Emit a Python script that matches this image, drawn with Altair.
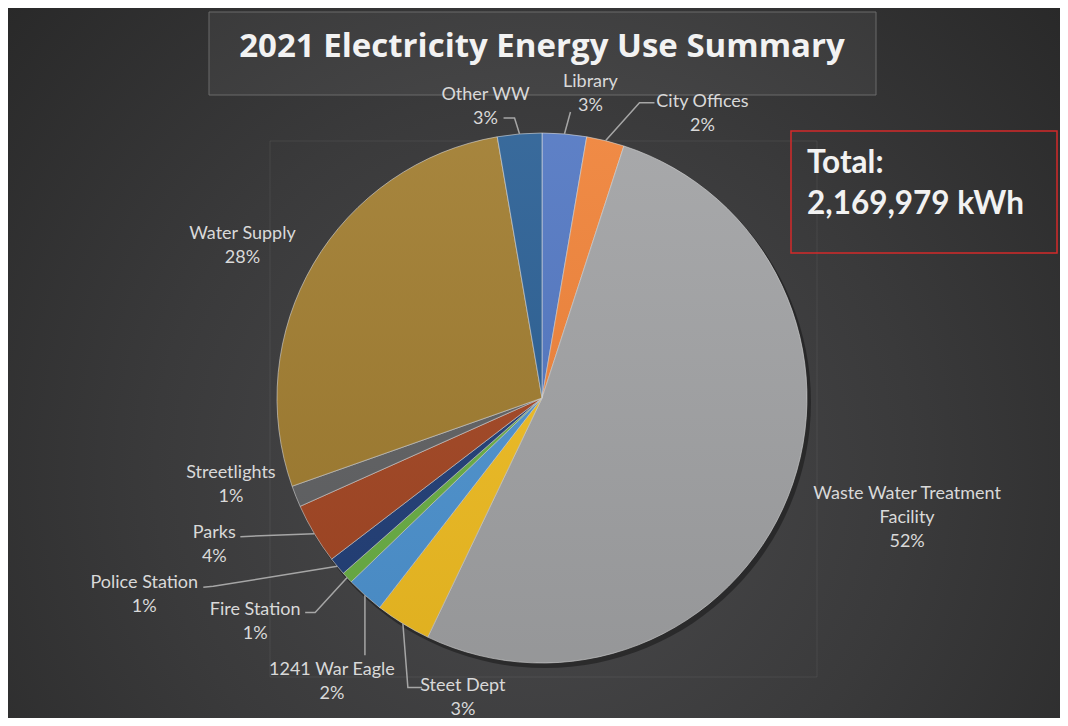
import math
import textwrap
import altair as alt
import pandas as pd

# ---------------- data ----------------
categories = [
    "Library", "City Offices", "Waste Water Treatment Facility", "Steet Dept",
    "1241 War Eagle", "Fire Station", "Police Station", "Parks",
    "Streetlights", "Water Supply", "Other WW",
]
kwh = [58600, 49900, 1130479, 73800, 49900, 15200, 23900, 80300, 28200, 601100, 58600]
colors = [
    "#5277c2", "#ef8238", "#a1a2a4", "#f0bd22", "#4d93d0", "#6aaf45",
    "#223f78", "#a34623", "#606163", "#a07c2f", "#2a5f94",
]
TITLE = "2021 Electricity Energy Use Summary"

# ---------------- layout (style only) ----------------
W, H = 1052, 710
CX, CY, R = 534, 390, 265

# offset of the label's first line centre from the slice's outer mid point
label_offset = {
    "Library": (26, -54), "City Offices": (97, -41),
    "Waste Water Treatment Facility": (119, -4), "Steet Dept": (60, 60),
    "1241 War Eagle": (-33, 73), "Fire Station": (-92, 30),
    "Police Station": (-193, 15), "Parks": (-100, -3),
    "Streetlights": (-65, -25), "Water Supply": (-71, -32),
    "Other WW": (-34, -41),
}
# leader line bends, relative to the slice's outer mid point
leader_offsets = {
    "Library": [(6, -22)],
    "City Offices": [(34, -38), (49, -38)],
    "Other WW": [(-5, -16), (-16, -16)],
    "Parks": [(-74, 3)],
    "Police Station": [(-124, 20), (-134, 21)],
    "Fire Station": [(-32, 35), (-42, 35)],
    "1241 War Eagle": [(0, 60)],
    "Steet Dept": [(5, 64), (19, 64)],
}

total = sum(kwh)
df = pd.DataFrame({"name": categories, "kwh": kwh, "idx": range(len(categories))})

labels, lines = [], []
cum = 0
for name, v in zip(categories, kwh):
    mid = (cum + v / 2) / total * 2 * math.pi
    cum += v
    ex = CX + R * math.sin(mid)
    ey = CY - R * math.cos(mid)
    ox, oy = label_offset[name]
    pct = round(v / total * 100)
    txt = textwrap.fill(name, 22) + "\n" + f"{pct}%"
    labels.append({"name": name, "lx": ex + ox, "ly": ey + oy - 7, "text": txt})
    if name in leader_offsets:
        pts = [(0, 0)] + leader_offsets[name]
        for s, (dx, dy) in enumerate(pts):
            lines.append({"name": name, "seq": s, "px": ex + dx, "py": ey + dy})

lab_df = pd.DataFrame(labels)
line_df = pd.DataFrame(lines)
one = pd.DataFrame({"a": [1]})

# ---------------- layers ----------------
bg = alt.Chart(one).mark_rect(
    fill=alt.RadialGradient(
        gradient="radial",
        x1=0.5, y1=0.6, r1=0.0, x2=0.5, y2=0.6, r2=0.72,
        stops=[
            alt.GradientStop(offset=0, color="#4b4b4d"),
            alt.GradientStop(offset=0.5, color="#3a3a3b"),
            alt.GradientStop(offset=1, color="#262626"),
        ],
    )
).encode(x=alt.value(0), x2=alt.value(W), y=alt.value(0), y2=alt.value(H))

frame = alt.Chart(one).mark_rect(
    fillOpacity=0, stroke="#ffffff", strokeOpacity=0.07, strokeWidth=1
).encode(x=alt.value(262), x2=alt.value(809), y=alt.value(133), y2=alt.value(669))

title_box = alt.Chart(one).mark_rect(
    fill="#ffffff", fillOpacity=0.05, stroke="#6b6b6b", strokeWidth=1
).encode(x=alt.value(201), x2=alt.value(868), y=alt.value(4), y2=alt.value(87))

title = alt.Chart(one).mark_text(
    text=TITLE, font="Open Sans", fontSize=33, fontWeight="bold", color="#f2f2f2",
    align="center", baseline="middle",
).encode(x=alt.value(534), y=alt.value(39))

shadow = alt.Chart(one).mark_arc(
    theta=0, theta2=2 * math.pi, radius=R + 1, fill="#000000", fillOpacity=0.35
).encode(x=alt.value(CX + 3), y=alt.value(CY + 4))

pie = alt.Chart(df).mark_arc(radius=R, stroke="#d8d8d8", strokeWidth=0.6).encode(
    theta=alt.Theta("kwh:Q", stack=True),
    color=alt.Color("name:N", scale=alt.Scale(domain=categories, range=colors), legend=None),
    order=alt.Order("idx:Q"),
    x=alt.value(CX),
    y=alt.value(CY),
)

sheen = alt.Chart(one).mark_arc(
    theta=0, theta2=2 * math.pi, radius=R,
    fill=alt.LinearGradient(
        gradient="linear", x1=0, y1=0, x2=0, y2=1,
        stops=[
            alt.GradientStop(offset=0, color="rgba(255,255,255,0.07)"),
            alt.GradientStop(offset=1, color="rgba(0,0,0,0.07)"),
        ],
    ),
).encode(x=alt.value(CX), y=alt.value(CY))

leaders = alt.Chart(line_df).mark_line(color="#a6a6a6", strokeWidth=1.5).encode(
    x=alt.X("px:Q", scale=None, axis=None),
    y=alt.Y("py:Q", scale=None, axis=None),
    detail="name:N",
    order="seq:Q",
)

text = alt.Chart(lab_df).mark_text(
    font="Lato", fontSize=18, color="#d9d9d9", align="center", baseline="top",
    lineBreak="\n", lineHeight=24,
).encode(
    x=alt.X("lx:Q", scale=None, axis=None),
    y=alt.Y("ly:Q", scale=None, axis=None),
    text="text:N",
)

total_box = alt.Chart(one).mark_rect(
    fillOpacity=0, stroke="#d42a2a", strokeWidth=1.5
).encode(x=alt.value(783), x2=alt.value(1049), y=alt.value(123), y2=alt.value(245))

total_df = pd.DataFrame({"t": ["Total:", f"{total:,} kWh"], "row": [0, 1]})
total_text = alt.Chart(total_df).mark_text(
    font="Lato", fontSize=31.5, fontWeight="bold", color="#f2f2f2",
    align="left", baseline="middle",
).encode(
    x=alt.value(799),
    y=alt.Y("row:Q", scale=alt.Scale(domain=[0, 1], range=[156, 197]), axis=None),
    text="t:N",
)

chart = alt.layer(
    bg, frame, title_box, title, shadow, pie, sheen,
    leaders, text, total_box, total_text,
).resolve_scale(x="independent", y="independent").properties(
    width=W, height=H, padding=0, background="#2b2b2b",
    autosize=alt.AutoSizeParams(type="none"),
).configure_view(stroke=None)

chart.save("out.html", embed_options={"renderer": "svg", "actions": False})
